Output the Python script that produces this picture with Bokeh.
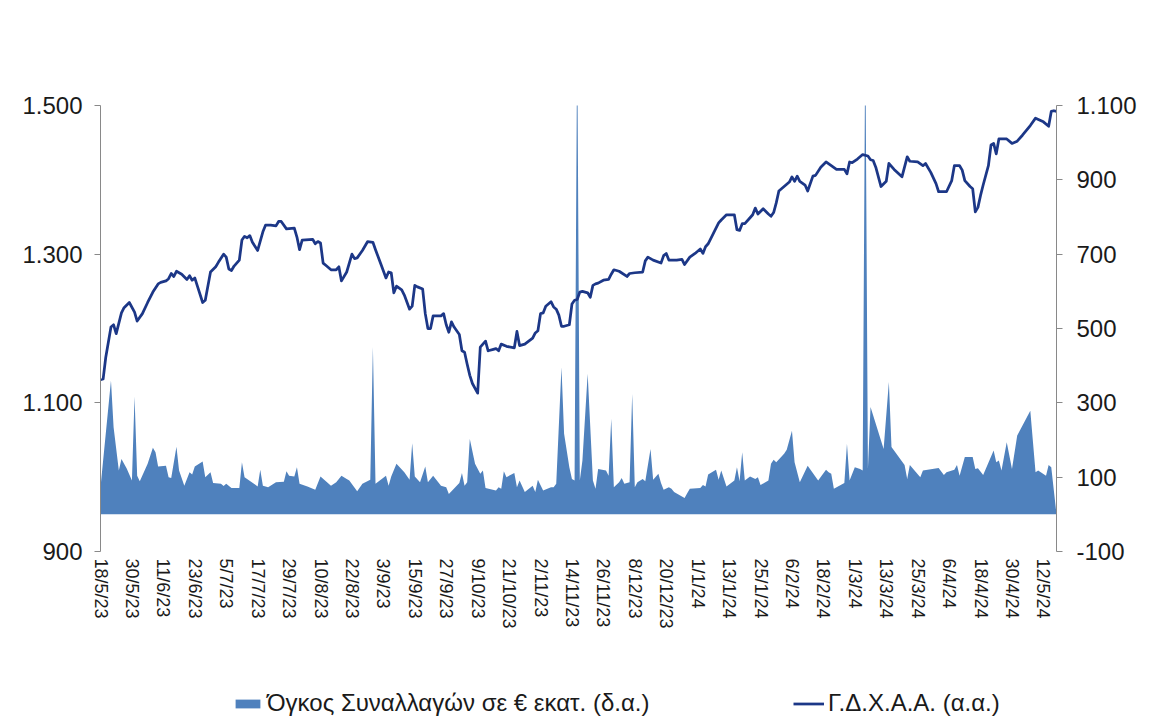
import pandas as pd
from bokeh.plotting import figure
from bokeh.layouts import column
from bokeh.models import Range1d, LinearAxis, FixedTicker, Legend, LegendItem, ColumnDataSource
from bokeh.embed import file_html
from bokeh.resources import INLINE

# ---------------- data ----------------
X_START = "2023-05-18"
X_END = "2024-05-17"

# Γ.Δ.Χ.Α.Α. index (left axis)
index_dates = [
    "2023-05-18", "2023-05-19", "2023-05-20", "2023-05-22", "2023-05-23", "2023-05-24", "2023-05-26", "2023-05-27",
    "2023-05-29", "2023-05-31",
    "2023-06-01", "2023-06-03", "2023-06-05", "2023-06-07", "2023-06-09", "2023-06-10", "2023-06-12", "2023-06-13",
    "2023-06-14", "2023-06-15", "2023-06-16", "2023-06-18", "2023-06-20", "2023-06-21", "2023-06-22", "2023-06-23",
    "2023-06-24", "2023-06-26", "2023-06-27", "2023-06-29",
    "2023-07-01", "2023-07-02", "2023-07-04", "2023-07-05", "2023-07-06", "2023-07-07", "2023-07-08", "2023-07-10",
    "2023-07-11", "2023-07-12", "2023-07-13", "2023-07-14", "2023-07-15", "2023-07-17", "2023-07-19", "2023-07-20",
    "2023-07-22", "2023-07-24", "2023-07-25", "2023-07-26", "2023-07-28", "2023-07-31",
    "2023-08-01", "2023-08-02", "2023-08-03", "2023-08-07", "2023-08-08", "2023-08-09", "2023-08-10", "2023-08-11",
    "2023-08-12", "2023-08-14", "2023-08-16", "2023-08-17", "2023-08-18", "2023-08-20", "2023-08-22", "2023-08-23",
    "2023-08-24", "2023-08-26", "2023-08-28", "2023-08-30", "2023-08-31",
    "2023-09-02", "2023-09-04", "2023-09-05", "2023-09-06", "2023-09-07", "2023-09-08", "2023-09-10", "2023-09-11",
    "2023-09-13", "2023-09-14", "2023-09-15", "2023-09-16", "2023-09-18", "2023-09-19", "2023-09-20", "2023-09-21",
    "2023-09-22", "2023-09-25", "2023-09-26", "2023-09-27", "2023-09-28", "2023-09-29", "2023-09-30",
    "2023-10-02", "2023-10-03", "2023-10-04", "2023-10-05", "2023-10-06", "2023-10-07", "2023-10-09", "2023-10-10",
    "2023-10-11", "2023-10-12", "2023-10-13", "2023-10-15", "2023-10-16", "2023-10-17", "2023-10-18", "2023-10-20",
    "2023-10-23", "2023-10-24", "2023-10-25", "2023-10-27", "2023-10-30", "2023-10-31",
    "2023-11-01", "2023-11-02", "2023-11-03", "2023-11-04", "2023-11-06", "2023-11-07", "2023-11-08", "2023-11-09",
    "2023-11-10", "2023-11-11", "2023-11-13", "2023-11-14", "2023-11-15", "2023-11-16", "2023-11-17", "2023-11-18",
    "2023-11-20", "2023-11-21", "2023-11-22", "2023-11-23", "2023-11-24", "2023-11-26", "2023-11-28", "2023-11-29",
    "2023-11-30",
    "2023-12-02", "2023-12-05", "2023-12-06", "2023-12-08", "2023-12-11", "2023-12-12", "2023-12-13", "2023-12-15",
    "2023-12-18", "2023-12-19", "2023-12-20", "2023-12-21", "2023-12-24", "2023-12-26", "2023-12-27", "2023-12-29",
    "2023-12-31",
    "2024-01-02", "2024-01-03", "2024-01-04", "2024-01-05", "2024-01-07", "2024-01-09", "2024-01-10", "2024-01-12",
    "2024-01-15", "2024-01-16", "2024-01-17", "2024-01-18", "2024-01-19", "2024-01-21", "2024-01-22", "2024-01-23",
    "2024-01-24", "2024-01-26", "2024-01-28", "2024-01-29", "2024-01-30", "2024-01-31",
    "2024-02-01", "2024-02-03", "2024-02-05", "2024-02-06", "2024-02-07", "2024-02-08", "2024-02-09", "2024-02-11",
    "2024-02-12", "2024-02-14", "2024-02-15", "2024-02-17", "2024-02-19", "2024-02-21", "2024-02-23", "2024-02-26",
    "2024-02-27", "2024-02-28", "2024-02-29",
    "2024-03-02", "2024-03-04", "2024-03-06", "2024-03-07", "2024-03-08", "2024-03-09", "2024-03-11", "2024-03-13",
    "2024-03-14", "2024-03-16", "2024-03-19", "2024-03-21", "2024-03-22", "2024-03-25", "2024-03-27", "2024-03-28",
    "2024-03-30",
    "2024-04-01", "2024-04-02", "2024-04-04", "2024-04-05", "2024-04-07", "2024-04-08", "2024-04-10", "2024-04-11",
    "2024-04-12", "2024-04-14", "2024-04-15", "2024-04-16", "2024-04-17", "2024-04-18", "2024-04-19", "2024-04-21",
    "2024-04-22", "2024-04-23", "2024-04-24", "2024-04-25", "2024-04-28", "2024-04-30",
    "2024-05-02", "2024-05-04", "2024-05-07", "2024-05-09", "2024-05-12", "2024-05-14", "2024-05-15", "2024-05-16",
    "2024-05-17",
]
index_values = [
    1131, 1132, 1161, 1202, 1205, 1193, 1221, 1228, 1235, 1222,
    1210, 1220, 1235, 1249, 1260, 1262, 1264, 1267, 1274, 1270, 1277, 1273, 1266, 1271, 1265, 1268, 1257, 1235,
    1238, 1276,
    1283, 1289, 1300, 1296, 1280, 1278, 1284, 1292, 1319, 1324, 1322, 1325, 1316, 1305, 1330, 1339, 1339, 1338,
    1344, 1344, 1334, 1335,
    1323, 1306, 1319, 1320, 1314, 1317, 1315, 1288, 1285, 1279, 1279, 1283, 1264, 1276, 1300, 1294, 1295, 1305,
    1317, 1316, 1306,
    1287, 1268, 1276, 1275, 1248, 1257, 1252, 1245, 1226, 1230, 1258, 1256, 1253, 1220, 1200, 1200, 1217, 1217,
    1220, 1205, 1195, 1209, 1202,
    1192, 1170, 1168, 1152, 1137, 1126, 1113, 1175, 1179, 1183, 1170, 1172, 1173, 1170, 1179, 1176, 1174, 1196,
    1177, 1179, 1187, 1194,
    1197, 1220, 1221, 1230, 1236, 1229, 1226, 1218, 1203, 1203, 1205, 1233, 1238, 1239, 1249, 1250, 1248, 1242,
    1258, 1260, 1261, 1265, 1266, 1273, 1279,
    1277, 1270, 1274, 1275, 1276, 1291, 1296, 1292, 1288, 1298, 1301, 1292, 1292, 1293, 1286, 1296, 1301,
    1307, 1301, 1310, 1314, 1328, 1342, 1346, 1353, 1353, 1333, 1332, 1341, 1341, 1349, 1353, 1362, 1354, 1361,
    1354, 1351, 1356, 1369,
    1385, 1391, 1397, 1404, 1398, 1405, 1398, 1393, 1385, 1405, 1406, 1417, 1424, 1419, 1414, 1414, 1408, 1424,
    1423,
    1428, 1434, 1432, 1427, 1426, 1417, 1391, 1398, 1422, 1414, 1404, 1431, 1425, 1424, 1419, 1422, 1410,
    1395, 1384, 1384, 1384, 1399, 1419, 1419, 1413, 1399, 1391, 1388, 1357, 1363, 1379, 1393, 1419, 1447, 1449,
    1435, 1455, 1455, 1449,
    1452, 1460, 1473, 1483, 1478, 1472, 1492, 1493, 1492,
]

# Όγκος συναλλαγών σε € εκατ. (right axis)
volume_dates = [
    "2023-05-18", "2023-05-22", "2023-05-23", "2023-05-25", "2023-05-26", "2023-05-28", "2023-05-30", "2023-05-31",
    "2023-06-01", "2023-06-02", "2023-06-05", "2023-06-07", "2023-06-08", "2023-06-09", "2023-06-12", "2023-06-13",
    "2023-06-14", "2023-06-16", "2023-06-17", "2023-06-19", "2023-06-21", "2023-06-22", "2023-06-23", "2023-06-26",
    "2023-06-27", "2023-06-29", "2023-06-30",
    "2023-07-03", "2023-07-04", "2023-07-05", "2023-07-07", "2023-07-10", "2023-07-11", "2023-07-12", "2023-07-16",
    "2023-07-17", "2023-07-18", "2023-07-19", "2023-07-21", "2023-07-24", "2023-07-27", "2023-07-28", "2023-07-29",
    "2023-07-31",
    "2023-08-01", "2023-08-02", "2023-08-05", "2023-08-08", "2023-08-10", "2023-08-14", "2023-08-16", "2023-08-18",
    "2023-08-20", "2023-08-21", "2023-08-24", "2023-08-26", "2023-08-29", "2023-08-30", "2023-08-31",
    "2023-09-04", "2023-09-05", "2023-09-06", "2023-09-08", "2023-09-11", "2023-09-13", "2023-09-14", "2023-09-15",
    "2023-09-17", "2023-09-19", "2023-09-20", "2023-09-22", "2023-09-25", "2023-09-27", "2023-09-28",
    "2023-10-02", "2023-10-03", "2023-10-04", "2023-10-05", "2023-10-06", "2023-10-08", "2023-10-10", "2023-10-11",
    "2023-10-12", "2023-10-16", "2023-10-17", "2023-10-18", "2023-10-19", "2023-10-20", "2023-10-23", "2023-10-24",
    "2023-10-25", "2023-10-27", "2023-10-30", "2023-10-31",
    "2023-11-01", "2023-11-03", "2023-11-06", "2023-11-07", "2023-11-08", "2023-11-10", "2023-11-11", "2023-11-13",
    "2023-11-14", "2023-11-15", "2023-11-16", "2023-11-17", "2023-11-18", "2023-11-20", "2023-11-22", "2023-11-23",
    "2023-11-24", "2023-11-27", "2023-11-28", "2023-11-29", "2023-11-30",
    "2023-12-02", "2023-12-03", "2023-12-04", "2023-12-06", "2023-12-07", "2023-12-08", "2023-12-09", "2023-12-11",
    "2023-12-12", "2023-12-14", "2023-12-15", "2023-12-17", "2023-12-18", "2023-12-19", "2023-12-21", "2023-12-22",
    "2023-12-23", "2023-12-27", "2023-12-28", "2023-12-29",
    "2024-01-02", "2024-01-03", "2024-01-04", "2024-01-05", "2024-01-08", "2024-01-09", "2024-01-10", "2024-01-12",
    "2024-01-15", "2024-01-16", "2024-01-17", "2024-01-18", "2024-01-19", "2024-01-21", "2024-01-23", "2024-01-24",
    "2024-01-25", "2024-01-28", "2024-01-29", "2024-01-30", "2024-01-31",
    "2024-02-03", "2024-02-04", "2024-02-06", "2024-02-07", "2024-02-09", "2024-02-12", "2024-02-16", "2024-02-19",
    "2024-02-20", "2024-02-21", "2024-02-22", "2024-02-26", "2024-02-27", "2024-02-28", "2024-03-01",
    "2024-03-03", "2024-03-04", "2024-03-05", "2024-03-06", "2024-03-07", "2024-03-12", "2024-03-14", "2024-03-15",
    "2024-03-20", "2024-03-21", "2024-03-22", "2024-03-26", "2024-03-27",
    "2024-04-02", "2024-04-04", "2024-04-05", "2024-04-08", "2024-04-09", "2024-04-10", "2024-04-12", "2024-04-15",
    "2024-04-16", "2024-04-17", "2024-04-19", "2024-04-23", "2024-04-24", "2024-04-25", "2024-04-26", "2024-04-28",
    "2024-04-30",
    "2024-05-02", "2024-05-07", "2024-05-09", "2024-05-10", "2024-05-13", "2024-05-14", "2024-05-15", "2024-05-17",
]
volume_values = [
    73, 360, 234, 118, 149, 123, 91, 317,
    104, 89, 136, 179, 167, 129, 131, 100, 98, 182, 118, 77, 113, 107, 129, 142, 100, 113, 84,
    82, 76, 82, 71, 71, 140, 100, 80, 75, 120, 77, 73, 86, 88, 116, 104, 102,
    127, 82, 75, 66, 102, 77, 86, 104, 95, 91, 62, 82, 93, 450, 82,
    104, 77, 102, 136, 113, 93, 191, 102, 86, 129, 86, 104, 77, 73, 55,
    84, 111, 77, 86, 203, 136, 109, 118, 71, 64, 73, 69, 116, 100, 111, 73, 91, 60, 77, 60,
    93, 64, 73, 73, 82, 396, 217, 127, 95, 91, 1300, 91, 145, 378, 91, 69, 122, 118, 104, 257, 73,
    86, 98, 82, 86, 324, 73, 86, 95, 89, 176, 93, 109, 84, 66, 73, 69, 60, 44, 57, 69,
    71, 79, 75, 107, 120, 93, 118, 75, 91, 127, 89, 167, 91, 102, 95, 100, 79, 91, 136, 147, 140,
    163, 174, 225, 140, 86, 131, 91, 120, 113, 109, 69, 84, 190, 91, 127,
    122, 118, 1300, 122, 289, 176, 356, 181, 133, 95, 133, 100, 118,
    125, 106, 113, 120, 133, 104, 154, 154, 122, 124, 106, 172, 140, 145, 118, 194, 122,
    212, 279, 113, 118, 104, 133, 127, 0,
]

# x-axis ticks (every 12 days) and their labels
x_tick_dates = [
    "2023-05-18", "2023-05-30", "2023-06-11", "2023-06-23", "2023-07-05", "2023-07-17", "2023-07-29", "2023-08-10",
    "2023-08-22", "2023-09-03", "2023-09-15", "2023-09-27", "2023-10-09", "2023-10-21", "2023-11-02", "2023-11-14",
    "2023-11-26", "2023-12-08", "2023-12-20", "2024-01-01", "2024-01-13", "2024-01-25", "2024-02-06", "2024-02-18",
    "2024-03-01", "2024-03-13", "2024-03-25", "2024-04-06", "2024-04-18", "2024-04-30", "2024-05-12",
]
x_tick_labels = [
    "18/5/23", "30/5/23", "11/6/23", "23/6/23", "5/7/23", "17/7/23", "29/7/23", "10/8/23",
    "22/8/23", "3/9/23", "15/9/23", "27/9/23", "9/10/23", "21/10/23", "2/11/23", "14/11/23",
    "26/11/23", "8/12/23", "20/12/23", "1/1/24", "13/1/24", "25/1/24", "6/2/24", "18/2/24",
    "1/3/24", "13/3/24", "25/3/24", "6/4/24", "18/4/24", "30/4/24", "12/5/24",
]
left_ticks = [900, 1100, 1300, 1500]
left_tick_labels = ["900", "1.100", "1.300", "1.500"]
right_ticks = [-100, 100, 300, 500, 700, 900, 1100]
right_tick_labels = ["-100", "100", "300", "500", "700", "900", "1.100"]

legend_labels = ["Όγκος Συναλλαγών σε € εκατ. (δ.α.)", "Γ.Δ.Χ.Α.Α. (α.α.)"]

# ---------------- styling ----------------
FONT = "Liberation Sans"
TEXT = "#1a1a1a"
AXIS = "#898989"
AREA_COLOR = "#4f81bd"
LINE_COLOR = "#1c3787"
W = 1145


def to_ms(d):
    return pd.Timestamp(d).timestamp() * 1000.0


p = figure(
    width=W, height=681,
    x_axis_type="datetime",
    x_range=Range1d(start=to_ms(X_START), end=to_ms(X_END)),
    y_range=Range1d(900, 1500),
    output_backend="svg", toolbar_location=None,
    min_border_left=100, min_border_right=89, min_border_top=105, min_border_bottom=130,
)
p.extra_y_ranges = {"vol": Range1d(-100, 1100)}
p.outline_line_color = None
p.grid.visible = False
p.background_fill_color = "white"
p.border_fill_color = "white"

vsrc = ColumnDataSource(dict(date=pd.to_datetime(volume_dates), vol=volume_values))
isrc = ColumnDataSource(dict(date=pd.to_datetime(index_dates), idx=index_values))

r_area = p.varea(x="date", y1=0, y2="vol", source=vsrc, y_range_name="vol",
                 fill_color=AREA_COLOR, fill_alpha=1.0)
r_line = p.line(x="date", y="idx", source=isrc, line_color=LINE_COLOR, line_width=2.75,
                line_join="round")

# left axis
la = p.yaxis[0]
la.ticker = FixedTicker(ticks=left_ticks)
la.major_label_overrides = {t: l for t, l in zip(left_ticks, left_tick_labels)}
la.axis_line_color = AXIS
la.major_tick_line_color = AXIS
la.major_tick_out = 6
la.major_tick_in = 0
la.minor_tick_line_color = None
la.major_label_text_font = FONT
la.major_label_text_font_size = "24px"
la.major_label_text_color = TEXT
la.major_label_standoff = 12

# right axis
ra = LinearAxis(y_range_name="vol")
ra.ticker = FixedTicker(ticks=right_ticks)
ra.major_label_overrides = {t: l for t, l in zip(right_ticks, right_tick_labels)}
ra.axis_line_color = AXIS
ra.major_tick_line_color = AXIS
ra.major_tick_out = 6
ra.major_tick_in = 0
ra.minor_tick_line_color = None
ra.major_label_text_font = FONT
ra.major_label_text_font_size = "24px"
ra.major_label_text_color = TEXT
ra.major_label_standoff = 14
p.add_layout(ra, "right")

# bottom axis
xa = p.xaxis[0]
tick_ms = [to_ms(d) for d in x_tick_dates]
xa.ticker = FixedTicker(ticks=tick_ms)
xa.major_label_overrides = {t: l for t, l in zip(tick_ms, x_tick_labels)}
xa.major_label_orientation = "vertical"
xa.axis_line_color = None
xa.major_tick_line_color = None
xa.minor_tick_line_color = None
xa.major_label_text_font = FONT
xa.major_label_text_font_size = "18px"
xa.major_label_text_color = TEXT
xa.major_label_standoff = 1

# ---------------- legend strip below the chart ----------------
# (its frame is aligned with the chart's frame: x = 100 .. 1056 on the page)
lg_fig = figure(width=W, height=39, x_range=Range1d(0, 1), y_range=Range1d(0, 1),
                x_axis_location=None, y_axis_location=None,
                output_backend="svg", toolbar_location=None,
                min_border=0, min_border_left=0, min_border_right=0, min_border_top=0, min_border_bottom=0)
lg_fig.outline_line_color = None
lg_fig.grid.visible = False
nan = float("nan")
proxy = ColumnDataSource(dict(x=[nan], y=[nan]))   # legend proxies: nothing is drawn
lg_area = lg_fig.varea(x="x", y1="y", y2="y", source=proxy, fill_color=AREA_COLOR)
lg_line = lg_fig.line(x="x", y="y", source=proxy, line_color=LINE_COLOR, line_width=2.75)


def make_legend(item_label, renderer, loc):
    lg = Legend(items=[LegendItem(label=item_label, renderers=[renderer])], location=loc,
                orientation="horizontal")
    lg.background_fill_alpha = 0
    lg.border_line_alpha = 0
    lg.padding = 0
    lg.margin = 0
    lg.spacing = 0
    lg.glyph_width = 31
    lg.glyph_height = 11
    lg.label_standoff = 4
    lg.label_text_font = FONT
    lg.label_text_font_size = "24px"
    lg.label_text_color = TEXT
    lg.label_height = 20
    return lg


lg_fig.add_layout(make_legend(legend_labels[0], lg_area, (132, 3)))
lg_fig.add_layout(make_legend(legend_labels[1], lg_line, (693, 3)))

layout = column(p, lg_fig, spacing=0)
open("out.html", "w").write(file_html(layout, INLINE))
